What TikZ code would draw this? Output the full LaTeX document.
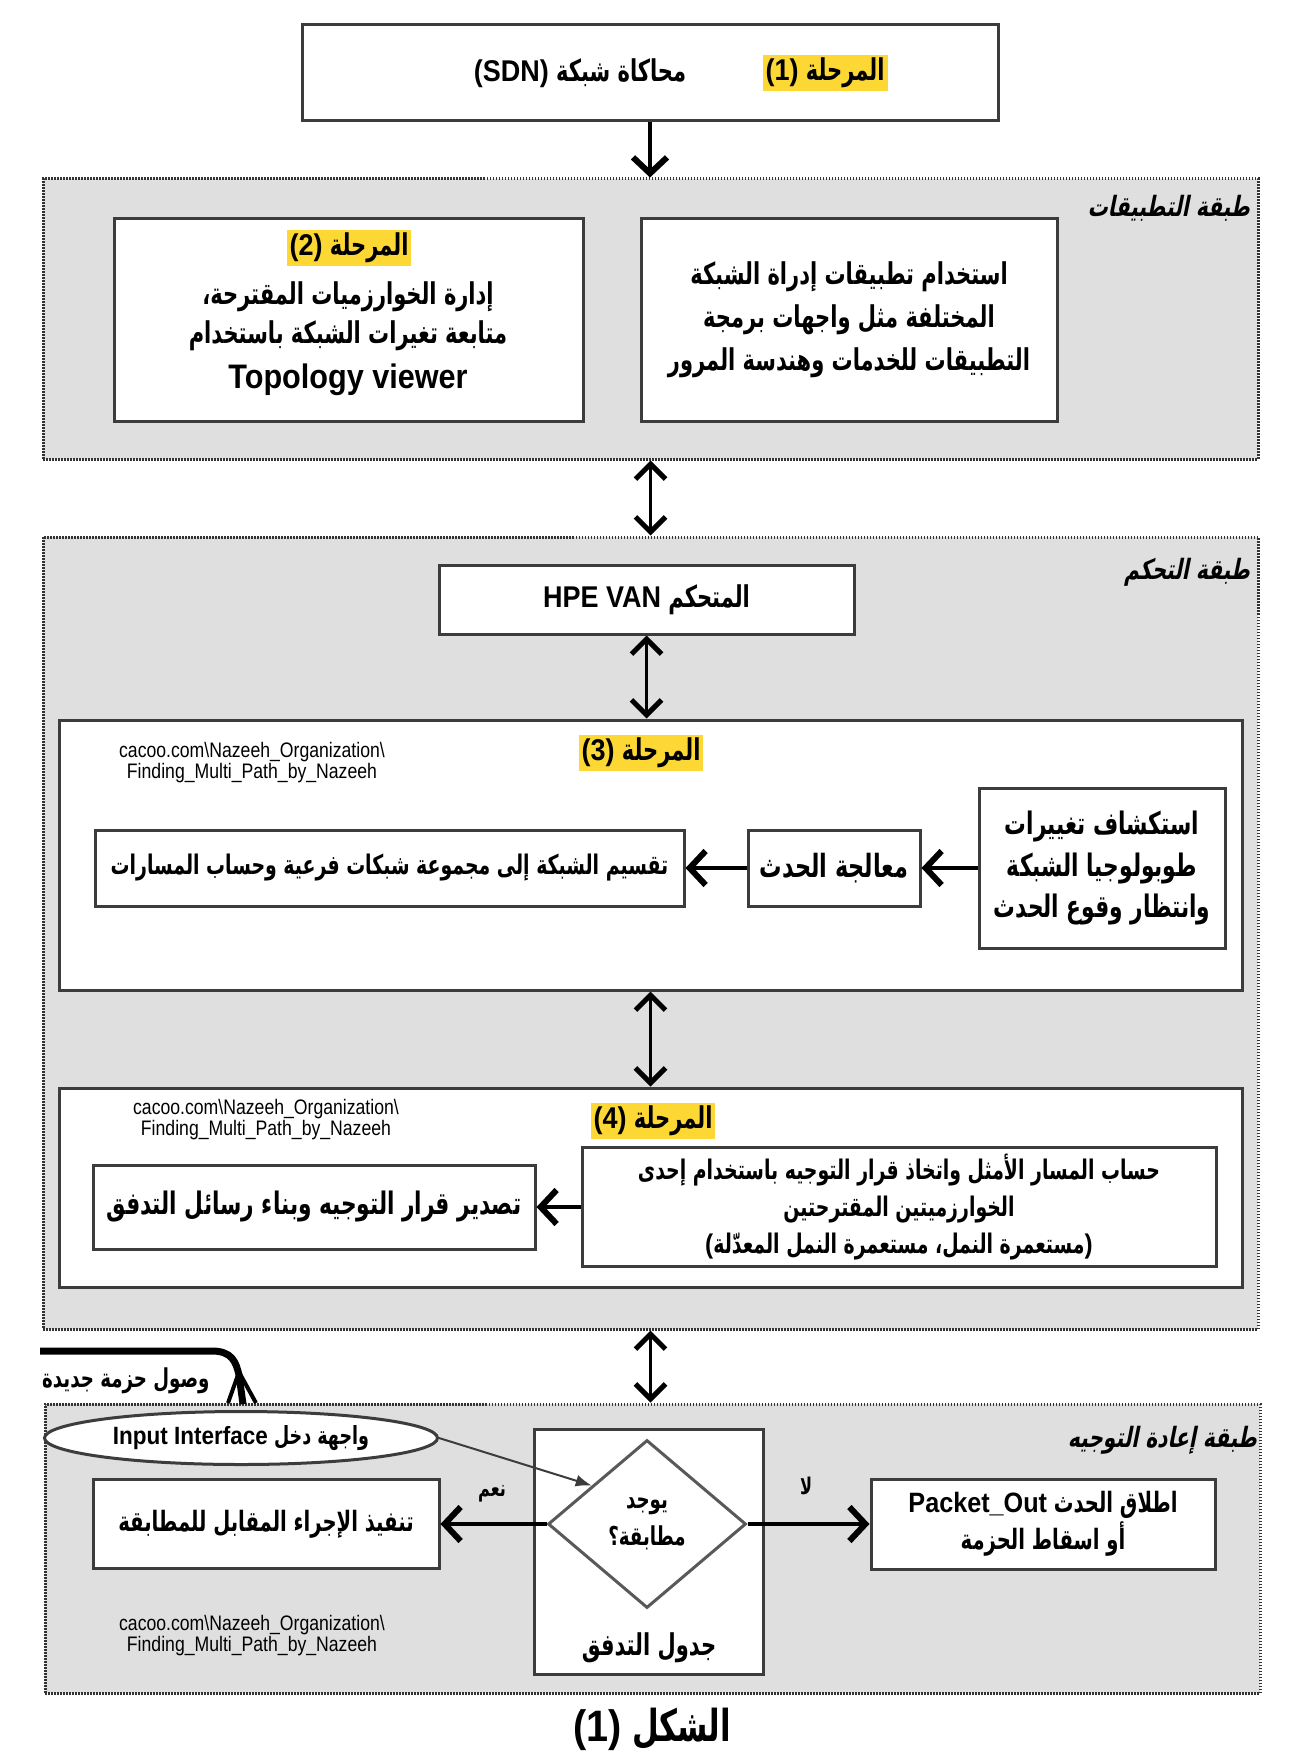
\documentclass[tikz,border=0pt]{standalone}
\usepackage{fontspec}
\usetikzlibrary{arrows.meta,shapes.geometric,calc}
\TeXXeTstate=1
\setmainfont{Liberation Sans}
\newfontfamily\arabicfnt[Script=Arabic,FakeStretch=0.7]{DejaVu Sans}
\newfontfamily\arabicslfnt[Script=Arabic,FakeStretch=0.72,FakeSlant=0.2]{DejaVu Sans}
\newfontfamily\latinfnt[FakeStretch=0.9]{Liberation Sans}
\newfontfamily\narrowfnt[FakeStretch=0.84]{Liberation Sans}
\newcommand\artxt[1]{{\arabicfnt\bfseries\beginR #1\endR}}
\newcommand\arsltxt[1]{{\arabicslfnt\bfseries\beginR #1\endR}}
\newcommand\lattxt[1]{{\latinfnt\bfseries\beginL #1\endL}}
\newcommand\mainsz{\fontsize{30}{42}\selectfont}
\newcommand\smallsz{\fontsize{23}{30}\selectfont}
\definecolor{hlyellow}{HTML}{FDD835}
\definecolor{layergray}{HTML}{DFDFDF}
\definecolor{boxline}{HTML}{3C3C3C}
\begin{document}
\begin{tikzpicture}[x=1pt,y=-1pt,
  layer/.style={draw=black!80, fill=layergray, line width=3pt, dash pattern=on 1.5pt off 1.5pt, inner sep=0pt},
  box/.style={draw=boxline, fill=white, line width=3pt, inner sep=2pt, align=center, font=\mainsz},
  hl/.style={fill=hlyellow, inner sep=3pt, font=\mainsz},
  plain/.style={inner sep=2pt, align=center, font=\mainsz},
  layerlbl/.style={inner sep=0pt, anchor=east, font=\fontsize{28}{34}\selectfont},
  cacoo/.style={inner sep=0pt, align=center, font=\narrowfnt\fontsize{21}{21}\selectfont},
  arr/.style={line width=4.5pt, -{Straight Barb[length=16pt,width=34pt,line width=6pt]}},
  darr/.style={line width=3pt, {Straight Barb[length=15pt,width=30pt,line width=5pt]}-{Straight Barb[length=15pt,width=30pt,line width=5pt]}},
  thinarr/.style={line width=2pt, draw=boxline, -{Latex[length=16pt,width=12pt]}}
]
\fill[white] (0,0) rectangle (1289,1755);
\useasboundingbox (0,0) rectangle (1289,1755);

% ---------- layers ----------
\node[layer, minimum width=1215pt, minimum height=280pt] (applayer) at (650.5,319) {};
\node[layer, minimum width=1215pt, minimum height=792pt] (ctrllayer) at (650.5,933) {};
\node[layer, minimum width=1215pt, minimum height=289pt] (fwdlayer) at (652.5,1548.5) {};

\node[layerlbl] (applbl) at (1250,208) {\arsltxt{طبقة التطبيقات}};
\node[layerlbl] (ctrllbl) at (1250,572) {\arsltxt{طبقة التحكم}};
\node[layerlbl] (fwdlbl) at (1257,1440) {\arsltxt{طبقة إعادة التوجيه}};

% ---------- stage 1 ----------
\node[box, minimum width=696pt, minimum height=96pt] (box1) at (650,73) {};
\node[hl] (st1) at (825,73) {\artxt{المرحلة \lattxt{(1)}}};
\node[plain] (sdn) at (580,73) {\artxt{محاكاة شبكة \lattxt{(SDN)}}};

% ---------- application layer ----------
\node[box, minimum width=469pt, minimum height=203pt] (box2) at (348.5,319.5) {};
\node[hl] (st2) at (349,248) {\artxt{المرحلة \lattxt{(2)}}};
\node[plain, font=\fontsize{30}{39}\selectfont] (box2txt) at (348,316) {\artxt{إدارة الخوارزميات المقترحة،}\\ \artxt{متابعة تغيرات الشبكة باستخدام}};
\node[plain, font=\fontsize{34}{40}\selectfont] (topo) at (348,380) {\lattxt{Topology viewer}};

\node[box, minimum width=416pt, minimum height=203pt, font=\fontsize{30}{43}\selectfont] (appbox) at (849,319.5)
  {\artxt{استخدام تطبيقات إدراة الشبكة}\\ \artxt{المختلفة مثل واجهات برمجة}\\ \artxt{التطبيقات للخدمات وهندسة المرور}};

% ---------- control layer ----------
\node[box, minimum width=415pt, minimum height=69pt] (hpe) at (646.5,599.5) {\artxt{المتحكم \lattxt{HPE VAN}}};

\node[box, minimum width=1183pt, minimum height=270pt] (stage3) at (650.5,855) {};
\node[hl] (st3) at (641,753) {\artxt{المرحلة \lattxt{(3)}}};
\node[cacoo] (cc3) at (252,763) {cacoo.com\textbackslash Nazeeh\_Organization\textbackslash\\Finding\_Multi\_Path\_by\_Nazeeh};
\node[box, minimum width=246pt, minimum height=160pt, font=\fontsize{31}{41.5}\selectfont] (detect) at (1102,868)
  {\artxt{استكشاف تغييرات}\\ \artxt{طوبولوجيا الشبكة}\\ \artxt{وانتظار وقوع الحدث}};
\node[box, minimum width=172pt, minimum height=76pt, font=\fontsize{32}{40}\selectfont] (event) at (834,868) {\artxt{معالجة الحدث}};
\node[box, minimum width=589pt, minimum height=76pt, font=\fontsize{27}{40}\selectfont] (split) at (389.5,868) {\artxt{تقسيم الشبكة إلى مجموعة شبكات فرعية وحساب المسارات}};

\node[box, minimum width=1183pt, minimum height=199pt] (stage4) at (650.5,1187.5) {};
\node[hl] (st4) at (653,1121) {\artxt{المرحلة \lattxt{(4)}}};
\node[cacoo] (cc4) at (266,1120) {cacoo.com\textbackslash Nazeeh\_Organization\textbackslash\\Finding\_Multi\_Path\_by\_Nazeeh};
\node[box, minimum width=634pt, minimum height=119pt, font=\fontsize{27}{37}\selectfont] (compute) at (899,1207)
  {\artxt{حساب المسار الأمثل واتخاذ قرار التوجيه باستخدام إحدى}\\ \artxt{الخوارزميتين المقترحتين}\\ {\latinfnt\bfseries(}\artxt{مستعمرة النمل، مستعمرة النمل المعدّلة}{\latinfnt\bfseries)}};
\node[box, minimum width=442pt, minimum height=84pt, font=\fontsize{31}{40}\selectfont] (export) at (314,1207) {\artxt{تصدير قرار التوجيه وبناء رسائل التدفق}};

% ---------- forwarding layer ----------
\node[box, minimum width=229pt, minimum height=245pt] (flowtbl) at (648.5,1551.5) {};
\node[diamond, draw=black!65, fill=white, line width=3pt, minimum width=198pt, minimum height=168pt, inner sep=0pt, align=center, font=\fontsize{26}{37}\selectfont] (dia) at (647,1524)
  {\artxt{يوجد}\\ \artxt{مطابقة؟}};
\node[plain] (flowlbl) at (649,1648) {\artxt{جدول التدفق}};
\node[box, minimum width=346pt, minimum height=89pt, font=\fontsize{28}{40}\selectfont] (exec) at (266,1524) {\artxt{تنفيذ الإجراء المقابل للمطابقة}};
\node[box, minimum width=344pt, minimum height=90pt, font=\fontsize{28}{37}\selectfont] (packet) at (1043,1524)
  {\artxt{اطلاق الحدث \lattxt{Packet\_Out}}\\ \artxt{أو اسقاط الحزمة}};
\node[cacoo] (cc5) at (252,1636) {cacoo.com\textbackslash Nazeeh\_Organization\textbackslash\\Finding\_Multi\_Path\_by\_Nazeeh};
\node[ellipse, draw=boxline, fill=white, line width=3pt, minimum width=393pt, minimum height=53pt, inner sep=0pt, font=\fontsize{25}{30}\selectfont] (inif) at (241,1438)
  {\artxt{واجهة دخل \lattxt{Input Interface}}};
\node[plain, font=\smallsz] (yes) at (492,1494) {\artxt{نعم}};
\node[plain, font=\smallsz] (no) at (806,1486) {\artxt{لا}};

% new packet arrival
\coordinate (pktsrc) at (40,1351);
\coordinate (pktend) at (243,1404);
\draw[line width=7pt] (pktsrc) -- (212,1351) .. controls (232,1351) and (236,1362) .. (239,1375) -- (pktend);
\draw[line width=4pt] (239,1372) -- (228,1403);
\draw[line width=4pt] (239,1372) -- (256,1403);
\node[plain, font=\fontsize{26}{30}\selectfont, anchor=west, inner sep=0pt] (newpkt) at (42,1381) {\artxt{وصول حزمة جديدة}};

% ---------- caption ----------
\node[plain, font=\fontsize{44}{50}\selectfont] (cap) at (652,1729) {\artxt{الشكل \lattxt{(1)}}};

% ---------- connectors ----------
\draw[arr] (box1.south) -- (box1.south |- applayer.north);
\draw[darr] (applayer.south) -- (applayer.south |- ctrllayer.north);
\draw[darr] (hpe.south) -- (hpe.south |- stage3.north);
\draw[darr] (stage3.south) -- (stage3.south |- stage4.north);
\draw[darr] (ctrllayer.south) -- (ctrllayer.south |- fwdlayer.north);
\draw[arr] (detect.west) -- (event.east);
\draw[arr] (event.west) -- (split.east);
\draw[arr] (compute.west |- export.east) -- (export.east);
\draw[arr] (dia.west) -- (exec.east);
\draw[arr] (dia.east) -- (packet.west);
\draw[thinarr] (inif.east) -- ($(dia.west)!0.45!(dia.north)$);
\end{tikzpicture}
\end{document}
